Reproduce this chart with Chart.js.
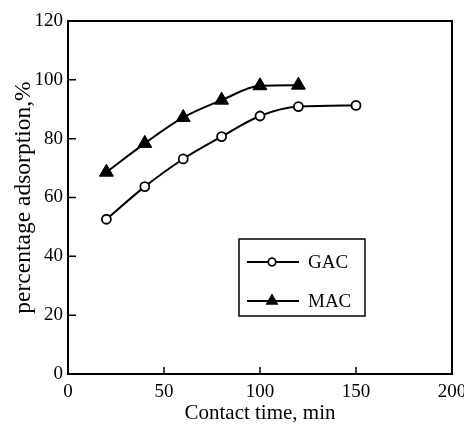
<!DOCTYPE html>
<html>
<head>
<meta charset="utf-8">
<script src="https://cdn.jsdelivr.net/npm/chart.js@4/dist/chart.umd.min.js"></script>
<style>
  html, body { margin: 0; padding: 0; background: #fff; }
  #wrap { width: 464px; height: 424px; }
</style>
</head>
<body>
<div id="wrap"><canvas id="adsorption-chart" width="464" height="424"></canvas></div>
<script>
// contact time (min)
const gacTime = [20, 40, 60, 80, 100, 120, 150];
const gacAdsorption = [52.6, 63.7, 73.1, 80.7, 87.7, 90.9, 91.3];

const macTime = [20, 40, 60, 80, 100, 120];
const macAdsorption = [68.6, 78.4, 87.2, 93.1, 98.0, 98.2];

const xTicks = [0, 50, 100, 150, 200];
const yTicks = [0, 20, 40, 60, 80, 100, 120];

const FONT = "'Liberation Serif', 'Times New Roman', serif";

const toPoints = (xs, ys) => xs.map((x, i) => ({ x: x, y: ys[i] }));

// box around plot + inward tick marks
const frame = {
  id: 'frame',
  afterDraw(chart) {
    const { ctx, chartArea: a, scales } = chart;
    ctx.save();
    ctx.strokeStyle = '#000';
    ctx.lineWidth = 2;
    ctx.strokeRect(a.left, a.top, a.right - a.left, a.bottom - a.top);
    ctx.lineWidth = 1.5;
    ctx.beginPath();
    yTicks.slice(1, -1).forEach((v) => {
      const y = scales.y.getPixelForValue(v);
      ctx.moveTo(a.left, y); ctx.lineTo(a.left + 8, y);
    });
    xTicks.slice(1, -1).forEach((v) => {
      const x = scales.x.getPixelForValue(v);
      ctx.moveTo(x, a.bottom); ctx.lineTo(x, a.bottom - 7);
    });
    ctx.stroke();
    ctx.restore();
  }
};

// legend box drawn inside the plot
const innerLegend = {
  id: 'innerLegend',
  afterDraw(chart) {
    const { ctx, chartArea: a } = chart;
    const bx = a.left + 171, by = a.top + 218, bw = 126, bh = 77;
    ctx.save();
    ctx.strokeStyle = '#000';
    ctx.lineWidth = 1.5;
    ctx.strokeRect(bx, by, bw, bh);
    chart.data.datasets.forEach((ds, i) => {
      const y = by + 23 + i * 39;
      ctx.lineWidth = 2;
      ctx.beginPath();
      ctx.moveTo(bx + 8, y); ctx.lineTo(bx + 60, y);
      ctx.stroke();
      const cx = bx + 33;
      ctx.beginPath();
      if (ds.pointStyle === 'triangle') {
        const r = 7.5;
        ctx.moveTo(cx, y - r);
        ctx.lineTo(cx + r * 0.87, y + r * 0.5);
        ctx.lineTo(cx - r * 0.87, y + r * 0.5);
        ctx.closePath();
        ctx.fillStyle = '#000';
        ctx.fill();
      } else {
        ctx.arc(cx, y, 3.8, 0, Math.PI * 2);
        ctx.fillStyle = '#fff';
        ctx.fill();
        ctx.lineWidth = 1.8;
        ctx.stroke();
      }
      ctx.fillStyle = '#000';
      ctx.font = '19px ' + FONT;
      ctx.textBaseline = 'middle';
      ctx.fillText(ds.label, bx + 69, y + 1);
    });
    ctx.restore();
  }
};

new Chart(document.getElementById('adsorption-chart'), {
  type: 'line',
  data: {
    datasets: [{
      label: 'GAC',
      data: toPoints(gacTime, gacAdsorption),
      borderColor: '#000',
      borderWidth: 2,
      backgroundColor: '#fff',
      pointStyle: 'circle',
      pointRadius: 4.5,
      pointBorderWidth: 1.8,
      pointBackgroundColor: '#fff',
      tension: 0.4,
      cubicInterpolationMode: 'monotone'
    }, {
      label: 'MAC',
      data: toPoints(macTime, macAdsorption),
      borderColor: '#000',
      borderWidth: 2,
      backgroundColor: '#000',
      pointStyle: 'triangle',
      pointRadius: 8,
      pointBorderWidth: 1,
      pointBackgroundColor: '#000',
      tension: 0.4,
      cubicInterpolationMode: 'monotone'
    }]
  },
  options: {
    responsive: false,
    animation: false,
    layout: { padding: { top: 21, right: 12, left: 0, bottom: 0 } },
    plugins: { legend: { display: false }, tooltip: { enabled: false } },
    scales: {
      x: {
        type: 'linear', min: 0, max: 200,
        afterBuildTicks: (s) => { s.ticks = xTicks.map((v) => ({ value: v })); },
        afterFit: (s) => { s.height = 50; s.paddingLeft = 0; s.paddingRight = 0; },
        grid: { display: false, drawTicks: false },
        border: { display: false },
        ticks: { color: '#000', padding: 7, maxRotation: 0, font: { family: FONT, size: 19 } },
        title: { display: true, text: 'Contact time, min', color: '#000',
                 padding: { top: 0, bottom: 0 }, font: { family: FONT, size: 21, lineHeight: 1 } }
      },
      y: {
        type: 'linear', min: 0, max: 120,
        afterBuildTicks: (s) => { s.ticks = yTicks.map((v) => ({ value: v })); },
        afterFit: (s) => { s.width = 68; s.paddingTop = 0; s.paddingBottom = 0; },
        grid: { display: false, drawTicks: false },
        border: { display: false },
        ticks: { color: '#000', padding: 5, font: { family: FONT, size: 19 } },
        title: { display: true, text: 'percentage adsorption,%', color: '#000',
                 padding: { top: 12, bottom: 0 }, font: { family: FONT, size: 23.5, lineHeight: 1 } }
      }
    }
  },
  plugins: [frame, innerLegend]
});
</script>
</body>
</html>
